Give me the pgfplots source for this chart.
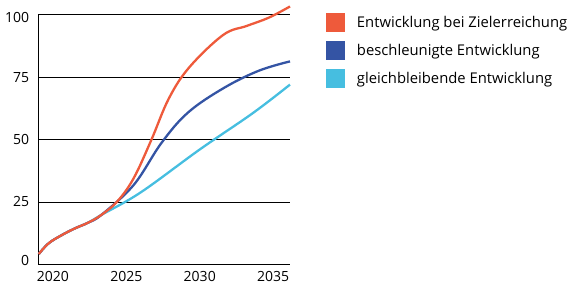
\documentclass[border=0pt]{standalone}
\usepackage{fontspec}
\setmainfont{Open Sans}
\usepackage{pgfplots}
\pgfplotsset{compat=1.18}
\definecolor{cRed}{HTML}{EE5A3B}
\definecolor{cBlue}{HTML}{3454A4}
\definecolor{cCyan}{HTML}{46BEE0}
\begin{document}
\begin{tikzpicture}
\begin{axis}[
  scale only axis,
  width=251.7pt, height=249.6pt,
  xmin=2019, xmax=2036.15,
  ymin=0, ymax=100,
  clip=false,
  axis x line*=bottom, axis y line*=left,
  axis line style={black, line width=0.9pt},
  xtick={2020,2025,2030,2035},
  xticklabels={2020,2025,2030,2035},
  ytick={25,50,75,100},
  yticklabels={25,50,75,{}},
  extra y ticks={1.7,98.9},
  extra y tick labels={0,100},
  extra y tick style={grid=none},
  ymajorgrids,
  major grid style={black, line width=0.8pt},
  tick style={draw=none},
  /pgf/number format/assume math mode=true,
  tick label style={font=\fontsize{14}{16}\selectfont, inner sep=0pt},
  yticklabel style={xshift=-9pt},
  xticklabel style={yshift=-7pt},
  reverse legend,
  legend style={draw=none, fill=none, inner sep=0pt, outer sep=0pt,
    at={(1.143,1.025)}, anchor=north west, row sep=0pt, column sep=12pt,
    font=\fontsize{14.8}{17}\selectfont,
    nodes={inner sep=0pt, minimum height=28pt, anchor=west}},
  legend cell align=left,
  legend image code/.code={\fill[#1,draw=none] (0pt,-9.5pt) rectangle (19pt,9.5pt);},
  every axis plot/.append style={line width=2.3pt, smooth, tension=0.6},
]
\addplot[cCyan] coordinates {
(2019.03,4.1) (2019.7,8.4) (2020.6,11.7) (2021.5,14.4) (2022.4,16.7) (2023.3,19.8)
(2026,28.9) (2030,46) (2033.6,60.5) (2036.15,72.0)};
\addlegendentry{gleichbleibende Entwicklung}
\addplot[cBlue] coordinates {
(2019.03,4.1) (2019.7,8.4) (2020.6,11.7) (2021.5,14.4) (2022.4,16.7) (2023.3,19.8)
(2025.5,31.8) (2027.4,48.7) (2029.2,60.8) (2031.6,70.5) (2034,77.5) (2036.15,81.3)};
\addlegendentry{beschleunigte Entwicklung}
\addplot[cRed] coordinates {
(2019.03,4.1) (2019.7,8.4) (2020.6,11.7) (2021.5,14.4) (2022.4,16.7) (2023.3,19.8)
(2024.4,25.3) (2025.5,34.5) (2026.7,49.8) (2027.9,66.5) (2029.3,79) (2031.6,91.9)
(2033.2,95.5) (2034.7,98.8) (2036.15,103.3)};
\addlegendentry{Entwicklung bei Zielerreichung}
\end{axis}
\path (-38.3pt,-20.7pt) rectangle (532.7pt,264.3pt);
\end{tikzpicture}
\end{document}
